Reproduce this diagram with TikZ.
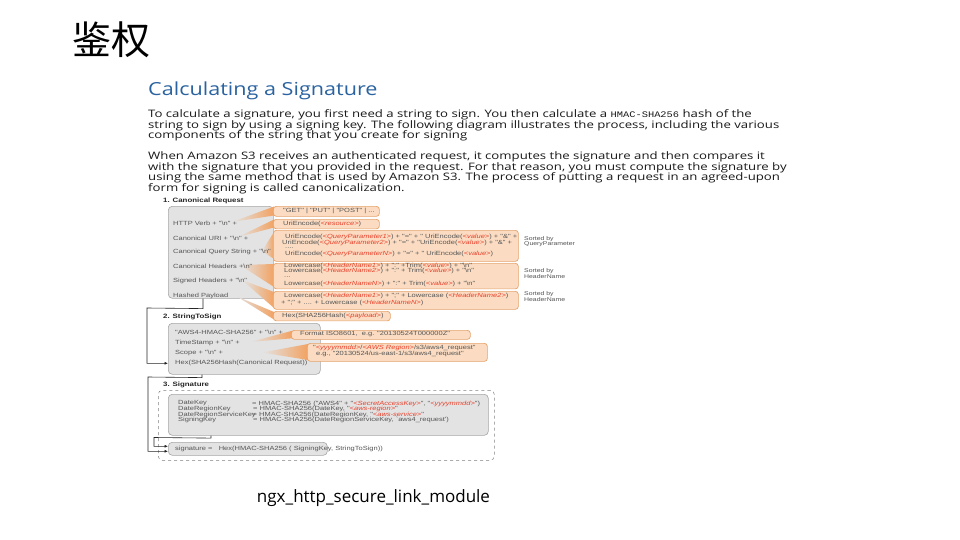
\documentclass[tikz,border=0pt]{standalone}
\usepackage{fontspec}
\usetikzlibrary{arrows.meta}
\newfontfamily\cjkf{Noto Sans CJK SC}
\newfontfamily\osans[FakeStretch=1.28]{Open Sans}
\newfontfamily\oshead[FakeStretch=1.2]{Open Sans}
\newfontfamily\osplain{Open Sans}
\newfontfamily\dg[FakeStretch=1.25]{Liberation Sans}
\newfontfamily\monof[FakeStretch=1.22]{Liberation Mono}
\definecolor{awsblue}{HTML}{2A63A0}
\definecolor{ored}{HTML}{E8412C}
\definecolor{ofill}{HTML}{FBDCC2}
\definecolor{odraw}{HTML}{E4A36C}
\definecolor{wedgec}{HTML}{F2A262}
\definecolor{gfill}{HTML}{E3E3E3}
\definecolor{gdraw}{HTML}{A6A6A6}
\definecolor{dtext}{HTML}{555555}
\newcommand\rv[1]{\textcolor{ored}{\itshape #1}}
\newcommand\bsn{\textbackslash n}
\tikzset{
  para/.style={anchor=base west, inner sep=0pt, font=\osans\fontsize{10.3}{11}\selectfont, text=black!90},
  lab/.style={anchor=west, inner sep=0pt, font=\dg\fontsize{6}{6}\selectfont, text=dtext},
  sml/.style={anchor=west, inner sep=0pt, font=\dg\fontsize{5.5}{6}\selectfont, text=dtext},
  sect/.style={anchor=west, inner sep=0pt, font=\dg\bfseries\fontsize{6.3}{7}\selectfont, text=black!85},
  obox/.style={draw=odraw, fill=ofill, rounded corners=3pt, line width=0.7pt, anchor=north west, inner sep=0pt},
  gbox/.style={draw=gdraw, fill=gfill, rounded corners=4pt, line width=0.6pt, anchor=north west, inner sep=0pt},
  dbox/.style={draw=gray, dashed, rounded corners=4pt, line width=0.5pt, anchor=north west, inner sep=0pt},
  wdg/.style={left color=gfill, right color=wedgec, draw=none},
  conn/.style={draw=black!85, line width=0.6pt},
  arr/.style={conn, -{Latex[length=3.5pt,width=3pt]}},
}
\begin{document}
\begin{tikzpicture}[x=1pt,y=-1pt]
\useasboundingbox (0,0) rectangle (960,540);
\fill[white] (0,0) rectangle (960,540);

% title and caption
\node[anchor=west, inner sep=0pt, font=\cjkf\fontsize{39}{40}\selectfont] (title) at (72,40) {鉴权};
\node[anchor=base, inner sep=0pt, font=\osplain\fontsize{17}{18}\selectfont] (ngx) at (373.5,502) {ngx\_http\_secure\_link\_module};

% heading and paragraphs
\node[anchor=base west, inner sep=0pt, font=\oshead\fontsize{18}{19}\selectfont, text=awsblue] (head) at (148,96) {Calculating a Signature};
\node[para] (p1) at (148,117.8) {To calculate a signature, you first need a string to sign. You then calculate a {\monof\fontsize{8.5}{9}\selectfont HMAC-SHA256} hash of the};
\node[para] (p2) at (148,128.3) {string to sign by using a signing key. The following diagram illustrates the process, including the various};
\node[para] (p3) at (148,138.8) {components of the string that you create for signing};
\node[para] (p4) at (148,159.8) {When Amazon S3 receives an authenticated request, it computes the signature and then compares it};
\node[para] (p5) at (148,170.2) {with the signature that you provided in the request. For that reason, you must compute the signature by};
\node[para] (p6) at (148,180.6) {using the same method that is used by Amazon S3. The process of putting a request in an agreed-upon};
\node[para] (p7) at (148,191) {form for signing is called canonicalization.};

% ---------- 1. Canonical Request ----------
\node[sect] (h1) at (163,200.5) {1. Canonical Request};
\node[gbox, minimum width=105pt, minimum height=92pt] (cr) at (168,206) {};

\shade[wdg] (232,222) -- (274,206.5) -- (274,215.5) -- cycle;
\shade[wdg] (238,237) -- (274,219.5) -- (274,227.5) -- cycle;
\shade[wdg] (262,251) -- (274,232) -- (274,259) -- cycle;
\shade[wdg] (240,265) -- (274,264) -- (274,287) -- cycle;
\shade[wdg] (242,280) -- (274,292) -- (274,308) -- cycle;
\shade[wdg] (236,296) -- (274,312) -- (274,319.5) -- cycle;

\node[obox, minimum width=106pt, minimum height=10pt] (o1) at (273,206) {};
\node[obox, minimum width=106pt, minimum height=9.5pt] (o2) at (273,219) {};
\node[obox, minimum width=245pt, minimum height=31pt] (o3) at (273,230) {};
\node[obox, minimum width=245pt, minimum height=25.5pt] (o4) at (273,263) {};
\node[obox, minimum width=245pt, minimum height=18pt] (o5) at (273,291) {};
\node[obox, minimum width=117pt, minimum height=9.5pt] (o6) at (273,311) {};

\node[lab] (l1) at (173,223) {HTTP Verb + "\bsn" +};
\node[lab] (l2) at (173,238) {Canonical URI + "\bsn" +};
\node[lab] (l3) at (173,252) {Canonical Query String + "\bsn"};
\node[lab] (l4) at (173,266) {Canonical Headers +\bsn"};
\node[lab] (l5) at (173,281) {Signed Headers + "\bsn"};
\node[lab] (hp) at (173,295.5) {Hashed Payload};

\node[lab] (t1) at (283,211) {"GET" | "PUT" | "POST" | ...};
\node[lab] (t2) at (283,223.7) {UriEncode(\rv{<resource>})};
\node[lab] (t3a) at (285,236.8) {UriEncode(\rv{<QueryParameter1>}) + "=" + " UriEncode(\rv{<value>}) + "\&" +};
\node[lab] (t3b) at (282,242.6) {UriEncode(\rv{<QueryParameter2>}) + "=" + "UriEncode(\rv{<value>}) + "\&" +};
\node[lab] (t3c) at (285,248) {....};
\node[lab] (t3d) at (285,254.3) {UriEncode(\rv{<QueryParameterN>}) + "=" + " UriEncode(\rv{<value>})};
\node[lab] (t4a) at (284,265.5) {Lowercase(\rv{<HeaderName1>}) + ":" +Trim(\rv{<value>}) + "\bsn"};
\node[lab] (t4b) at (284,271.4) {Lowercase(\rv{<HeaderName2>}) + ":" + Trim(\rv{<value>}) + "\bsn"};
\node[lab] (t4c) at (284,277.6) {...};
\node[lab] (t4d) at (284,283.5) {Lowercase(\rv{<HeaderNameN>}) + ":" + Trim(\rv{<value>}) + "\bsn"};
\node[lab] (t5a) at (284,295.5) {Lowercase(\rv{<HeaderName1>}) + ";" + Lowercase (\rv{<HeaderName2>})};
\node[lab] (t5b) at (281,303) {+ ";" + .... + Lowercase (\rv{<HeaderNameN>})};
\node[lab] (t6) at (282,315.8) {Hex(SHA256Hash(\rv{<payload>})};

\node[sml] (s1a) at (524,239) {Sorted by};
\node[sml] (s1b) at (524,244.3) {QueryParameter};
\node[sml] (s2a) at (524,271) {Sorted by};
\node[sml] (s2b) at (524,276.3) {HeaderName};
\node[sml] (s3a) at (524,294.5) {Sorted by};
\node[sml] (s3b) at (524,300) {HeaderName};

% ---------- 2. StringToSign ----------
\node[sect] (h2) at (163,316.7) {2. StringToSign};
\node[gbox, minimum width=152pt, minimum height=51pt] (g2) at (168,323) {};
\shade[wdg] (250,342) -- (292,330.8) -- (292,338.3) -- cycle;
\shade[wdg] (262,352.5) -- (308,344) -- (308,360) -- cycle;
\node[obox, minimum width=179pt, minimum height=9pt] (f1) at (291,330) {};
\node[obox, minimum width=180pt, minimum height=18pt] (f2) at (307,343) {};

\node[lab] (a1) at (175,332) {"AWS4-HMAC-SHA256" + "\bsn" +};
\node[lab] (a2) at (175,342.7) {TimeStamp + "\bsn" +};
\node[lab] (a3) at (175,352.7) {Scope + "\bsn" +};
\node[lab] (a4) at (175,363.3) {Hex(SHA256Hash(Canonical Request))};
\node[lab] (ft1) at (300,334.5) {Format ISO8601,\ \ e.g. "20130524T000000Z"};
\node[lab] (ft2) at (313,348.2) {"\rv{<yyyymmdd>}/\rv{<AWS Region>}/s3/aws4\_request"};
\node[lab] (ft3) at (316,354) {e.g., "20130524/us-east-1/s3/aws4\_request"};

% ---------- 3. Signature ----------
\node[sect] (h3) at (163,384.5) {3. Signature};
\node[dbox, minimum width=336pt, minimum height=70pt] (dsh) at (158,390) {};
\node[gbox, minimum width=320pt, minimum height=41pt] (g3) at (168,394) {};
\node[lab] (k1) at (178,403.5) {DateKey};
\node[lab] (k2) at (178,409) {DateRegionKey};
\node[lab] (k3) at (178,414.5) {DateRegionServiceKey};
\node[lab] (k4) at (178,420) {SigningKey};
\node[lab] (v1) at (252,403.5) {= HMAC-SHA256 ("AWS4" + "\rv{<SecretAccessKey>}", "\rv{<yyyymmdd>}")};
\node[lab] (v2) at (253,409) {= HMAC-SHA256(DateKey, "\rv{<aws-region>}"};
\node[lab] (v3) at (252.5,414.5) {= HMAC-SHA256(DateRegionKey, "\rv{<aws-service>}"};
\node[lab] (v4) at (253,420) {= HMAC-SHA256(DateRegionServiceKey, `aws4\_request')};

\node[gbox, minimum width=159pt, minimum height=13pt] (sg) at (168,442) {};
\node[lab] (sgt) at (175,448.5) {signature =\ \ \ Hex(HMAC-SHA256 ( SigningKey, StringToSign))};

% ---------- connectors ----------
\draw[arr] ([xshift=35pt]cr.south west) -- ++(0,10) -- (147,308) |- (g2.west |- a4.west);
\draw[arr] ([xshift=34pt]g2.south west) -- ++(0,3) -- (148,377) |- ([yshift=-2.5pt]sg.west);
\draw[arr] ([xshift=43pt]g3.south west) -- ++(0,2.5) -- (154,437.5) |- ([yshift=2.5pt]sg.west);
\end{tikzpicture}
\end{document}
